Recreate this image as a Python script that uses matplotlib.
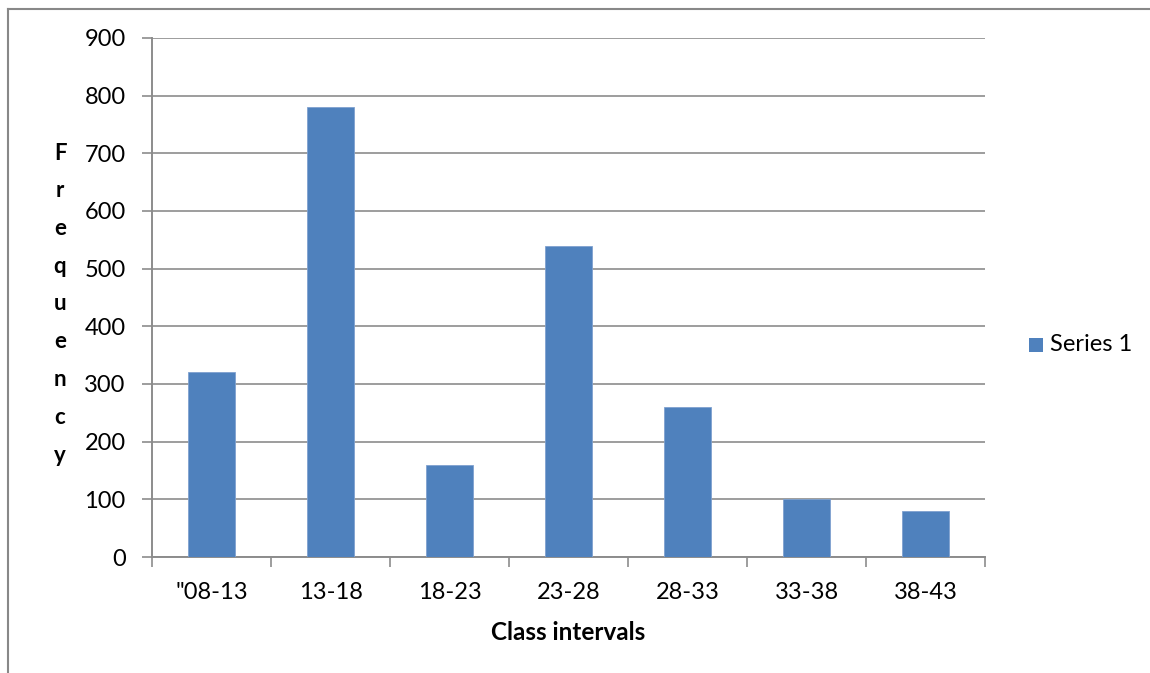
import matplotlib
matplotlib.use("Agg")
import matplotlib.pyplot as plt
from matplotlib.lines import Line2D
from matplotlib.patches import Rectangle

categories = ['"08-13', "13-18", "18-23", "23-28", "28-33", "33-38", "38-43"]
values = [320, 780, 160, 540, 260, 100, 80]
yticks = [0, 100, 200, 300, 400, 500, 600, 700, 800, 900]
series_name = "Series 1"
x_title = "Class intervals"
y_title = "Frequency"

W, H = 1150, 673
fig = plt.figure(figsize=(W / 100, H / 100), dpi=100)
plt.rcParams['font.family'] = ['Lato', 'DejaVu Sans']

ax = fig.add_axes([152 / W, 1 - 557 / H, (985 - 152) / W, (557 - 38) / H])
bar_color = "#4F81BD"
grid_color = "#8C8C8C"

x = list(range(len(categories)))
ax.bar(x, values, width=0.4, color=bar_color, edgecolor="#7FA1CF", linewidth=0.6, zorder=3)

ax.set_xlim(-0.5, len(categories) - 0.5)
ax.set_ylim(0, 900)
ax.set_yticks(yticks)
ax.set_yticklabels([str(v) for v in yticks], fontsize=17)
ax.yaxis.grid(True, color=grid_color, linewidth=1.2, zorder=0)
ax.set_axisbelow(True)

# x ticks at category boundaries, labels at centers
ax.set_xticks([i - 0.5 for i in range(len(categories) + 1)])
ax.set_xticklabels([])
ax.set_xticks(x, minor=True)
ax.set_xticklabels(categories, minor=True, fontsize=17)
ax.tick_params(axis="x", which="minor", length=0, pad=18)
ax.tick_params(axis="x", which="major", length=7, width=1.2, color=grid_color, direction="out")
ax.tick_params(axis="y", length=7, width=1.2, color=grid_color, direction="out", pad=12)

for s in ["top", "right"]:
    ax.spines[s].set_visible(False)
for s in ["left", "bottom"]:
    ax.spines[s].set_color(grid_color)
    ax.spines[s].set_linewidth(1.4)

# axis titles
fig.text(568 / W, 1 - 633 / H, x_title, ha="center", va="center", fontsize=17.5, fontweight="bold")
n = len(y_title)
y0, y1 = 153, 455
for i, ch in enumerate(y_title):
    yy = y0 + (y1 - y0) * i / (n - 1)
    fig.text(60 / W, 1 - yy / H, ch, ha="center", va="center", fontsize=16, fontweight="bold")

# legend
fig.patches.append(Rectangle((1029 / W, 1 - 352 / H), 14 / W, 14 / H, transform=fig.transFigure,
                             facecolor=bar_color, edgecolor="none"))
fig.text(1050 / W, 1 - 345 / H, series_name, ha="left", va="center", fontsize=17)

# chart frame (partial)
fig.add_artist(Line2D([8 / W, 8 / W], [0, 1 - 9 / H], transform=fig.transFigure, color="#888888", linewidth=1.5))
fig.add_artist(Line2D([8 / W, 1], [1 - 9 / H, 1 - 9 / H], transform=fig.transFigure, color="#888888", linewidth=1.5))

fig.savefig("out.png", dpi=100)
